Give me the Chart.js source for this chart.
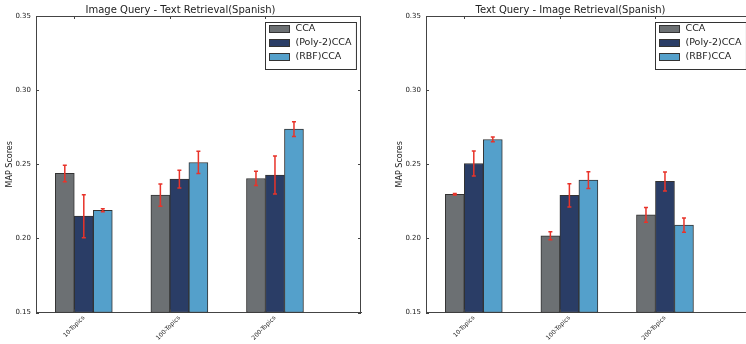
<!DOCTYPE html>
<html lang="en">
<head>
  <meta charset="UTF-8">
  <title>MAP Scores - Spanish</title>
  <script src="https://cdn.jsdelivr.net/npm/chart.js"></script>
  <style>
    html, body { margin: 0; padding: 0; background: #fff; width: 746px; height: 344px; overflow: hidden; }
    .panel { position: absolute; top: 0; width: 373px; height: 344px; }
  </style>
</head>
<body>
<!-- two side-by-side subplots, the right one runs past the window edge like the original -->
<div class="panel" style="left:0"><canvas id="imgQuery" width="373" height="344"></canvas></div>
<div class="panel" style="left:390px"><canvas id="txtQuery" width="373" height="344"></canvas></div>

<script>
  const topics = ['10-Topics', '100-Topics', '200-Topics'];
  const methods = ['CCA', '(Poly-2)CCA', '(RBF)CCA'];
  const methodColors = ['#6c7073', '#2a3d66', '#54a0cb'];
  const yTicks = [0.15, 0.20, 0.25, 0.30, 0.35];

  // Image Query - Text Retrieval
  const imgCca = [0.2438, 0.2292, 0.2404];
  const imgPoly = [0.2150, 0.2400, 0.2427];
  const imgRbf = [0.2189, 0.2512, 0.2737];
  const imgCcaErr = [0.0056, 0.0075, 0.0048];
  const imgPolyErr = [0.0145, 0.0060, 0.0128];
  const imgRbfErr = [0.0010, 0.0075, 0.0050];

  // Text Query - Image Retrieval
  const txtCca = [0.2297, 0.2018, 0.2159];
  const txtPoly = [0.2505, 0.2290, 0.2384];
  const txtRbf = [0.2667, 0.2393, 0.2090];
  const txtCcaErr = [0.0005, 0.0027, 0.0050];
  const txtPolyErr = [0.0084, 0.0079, 0.0064];
  const txtRbfErr = [0.0016, 0.0056, 0.0048];

  const FONT = "'DejaVu Sans', sans-serif";
  const TEXT = '#222';
  const SPINE = '#444';
  const ERR = '#e8332a';
  const barW = 0.2; // matplotlib bar width in x units

  // error bars, top/right spines, inward tick marks, boxed legend
  const mplExtras = {
    id: 'mplExtras',
    afterDatasetsDraw(chart) {
      const ctx = chart.ctx, y = chart.scales.y;
      ctx.save();
      ctx.strokeStyle = ERR;
      ctx.lineWidth = 1.5;
      chart.data.datasets.forEach((ds, di) => {
        chart.getDatasetMeta(di).data.forEach((bar, j) => {
          const v = ds.data[j].y, e = ds.errors[j];
          const t = y.getPixelForValue(v + e), b = y.getPixelForValue(v - e);
          ctx.beginPath();
          ctx.moveTo(bar.x, t); ctx.lineTo(bar.x, b);
          ctx.moveTo(bar.x - 2, t); ctx.lineTo(bar.x + 2, t);
          ctx.moveTo(bar.x - 2, b); ctx.lineTo(bar.x + 2, b);
          ctx.stroke();
        });
      });
      ctx.restore();
    },
    afterDraw(chart) {
      const ctx = chart.ctx, a = chart.chartArea, y = chart.scales.y;
      ctx.save();
      ctx.strokeStyle = SPINE;
      ctx.lineWidth = 1;
      ctx.beginPath();
      ctx.moveTo(a.left, a.top + 0.5); ctx.lineTo(a.right, a.top + 0.5);
      ctx.moveTo(a.right - 0.5, a.top); ctx.lineTo(a.right - 0.5, a.bottom);
      // y ticks inside on both sides
      y.ticks.forEach(t => {
        const py = Math.round(y.getPixelForValue(t.value)) + 0.5;
        ctx.moveTo(a.left, py); ctx.lineTo(a.left + 3, py);
        ctx.moveTo(a.right, py); ctx.lineTo(a.right - 3, py);
      });
      // x ticks sit at the left edge of the middle bar of each group
      chart.getDatasetMeta(1).data.forEach(bar => {
        const px = Math.round(bar.x - bar.width / 2) + 0.5;
        ctx.moveTo(px, a.top); ctx.lineTo(px, a.top + 3);
        ctx.moveTo(px, a.bottom); ctx.lineTo(px, a.bottom - 3);
      });
      ctx.stroke();

      // legend box in the upper right corner
      ctx.font = '9.5px ' + FONT;
      const labels = chart.data.datasets.map(d => d.label);
      const textW = Math.max(...labels.map(l => ctx.measureText(l).width));
      const boxW = 30 + textW + 5, boxH = 47;
      const bx = Math.round(a.right - 5 - boxW) + 0.5, by = Math.round(a.top + 6) + 0.5;
      ctx.fillStyle = '#fff';
      ctx.fillRect(bx, by, boxW, boxH);
      ctx.strokeStyle = '#333';
      ctx.strokeRect(bx, by, boxW, boxH);
      ctx.textBaseline = 'middle';
      chart.data.datasets.forEach((d, i) => {
        const cy = by + 6.5 + i * 14;
        ctx.fillStyle = d.backgroundColor;
        ctx.fillRect(bx + 4, cy - 3.5, 20, 7);
        ctx.strokeStyle = '#333';
        ctx.strokeRect(bx + 4, cy - 3.5, 20, 7);
        ctx.fillStyle = TEXT;
        ctx.fillText(d.label, bx + 30, cy);
      });
      ctx.restore();
    }
  };

  function makeChart(id, title, series, errs) {
    return new Chart(document.getElementById(id).getContext('2d'), {
      type: 'bar',
      data: {
        datasets: series.map((vals, k) => ({
          label: methods[k],
          data: vals.map((v, i) => ({ x: i + 1.5 * barW, y: v })),
          errors: errs[k],
          backgroundColor: methodColors[k],
          borderColor: '#333',
          borderWidth: 1,
          borderSkipped: false,
          barThickness: 19,
          base: yTicks[0]
        }))
      },
      options: {
        responsive: false,
        animation: false,
        layout: { padding: { right: 12 } },
        plugins: {
          legend: { display: false },
          tooltip: { enabled: false },
          title: {
            display: true,
            text: title,
            color: TEXT,
            font: { family: FONT, size: 10, weight: 'normal' },
            padding: { top: 4, bottom: 0 }
          }
        },
        scales: {
          x: {
            type: 'linear',
            min: -barW,
            max: 3.2,
            offset: false,
            grid: { display: false, offset: false, tickLength: 0 },
            border: { display: true, color: SPINE, width: 1 },
            afterBuildTicks: s => { s.ticks = topics.map((t, i) => ({ value: i + 1.5 * barW })); },
            afterFit: s => { s.height = 31.5; },
            ticks: {
              autoSkip: false,
              minRotation: 45,
              maxRotation: 45,
              padding: 2,
              color: TEXT,
              font: { family: FONT, size: 6 },
              callback: (v, i) => topics[i]
            }
          },
          y: {
            min: yTicks[0],
            max: yTicks[yTicks.length - 1],
            grid: { display: false, tickLength: 0 },
            border: { display: true, color: SPINE, width: 1 },
            afterBuildTicks: s => { s.ticks = yTicks.map(v => ({ value: v })); },
            afterFit: s => { s.width = 36; },
            ticks: {
              padding: 5,
              color: TEXT,
              font: { family: FONT, size: 7 },
              callback: v => v.toFixed(2)
            },
            title: {
              display: true,
              text: 'MAP Scores',
              color: TEXT,
              font: { family: FONT, size: 8 },
              padding: { top: 5, bottom: 0 }
            }
          }
        }
      },
      plugins: [mplExtras]
    });
  }

  const imgChart = makeChart('imgQuery', 'Image Query - Text Retrieval(Spanish)',
    [imgCca, imgPoly, imgRbf], [imgCcaErr, imgPolyErr, imgRbfErr]);
  const txtChart = makeChart('txtQuery', 'Text Query - Image Retrieval(Spanish)',
    [txtCca, txtPoly, txtRbf], [txtCcaErr, txtPolyErr, txtRbfErr]);
</script>
</body>
</html>
